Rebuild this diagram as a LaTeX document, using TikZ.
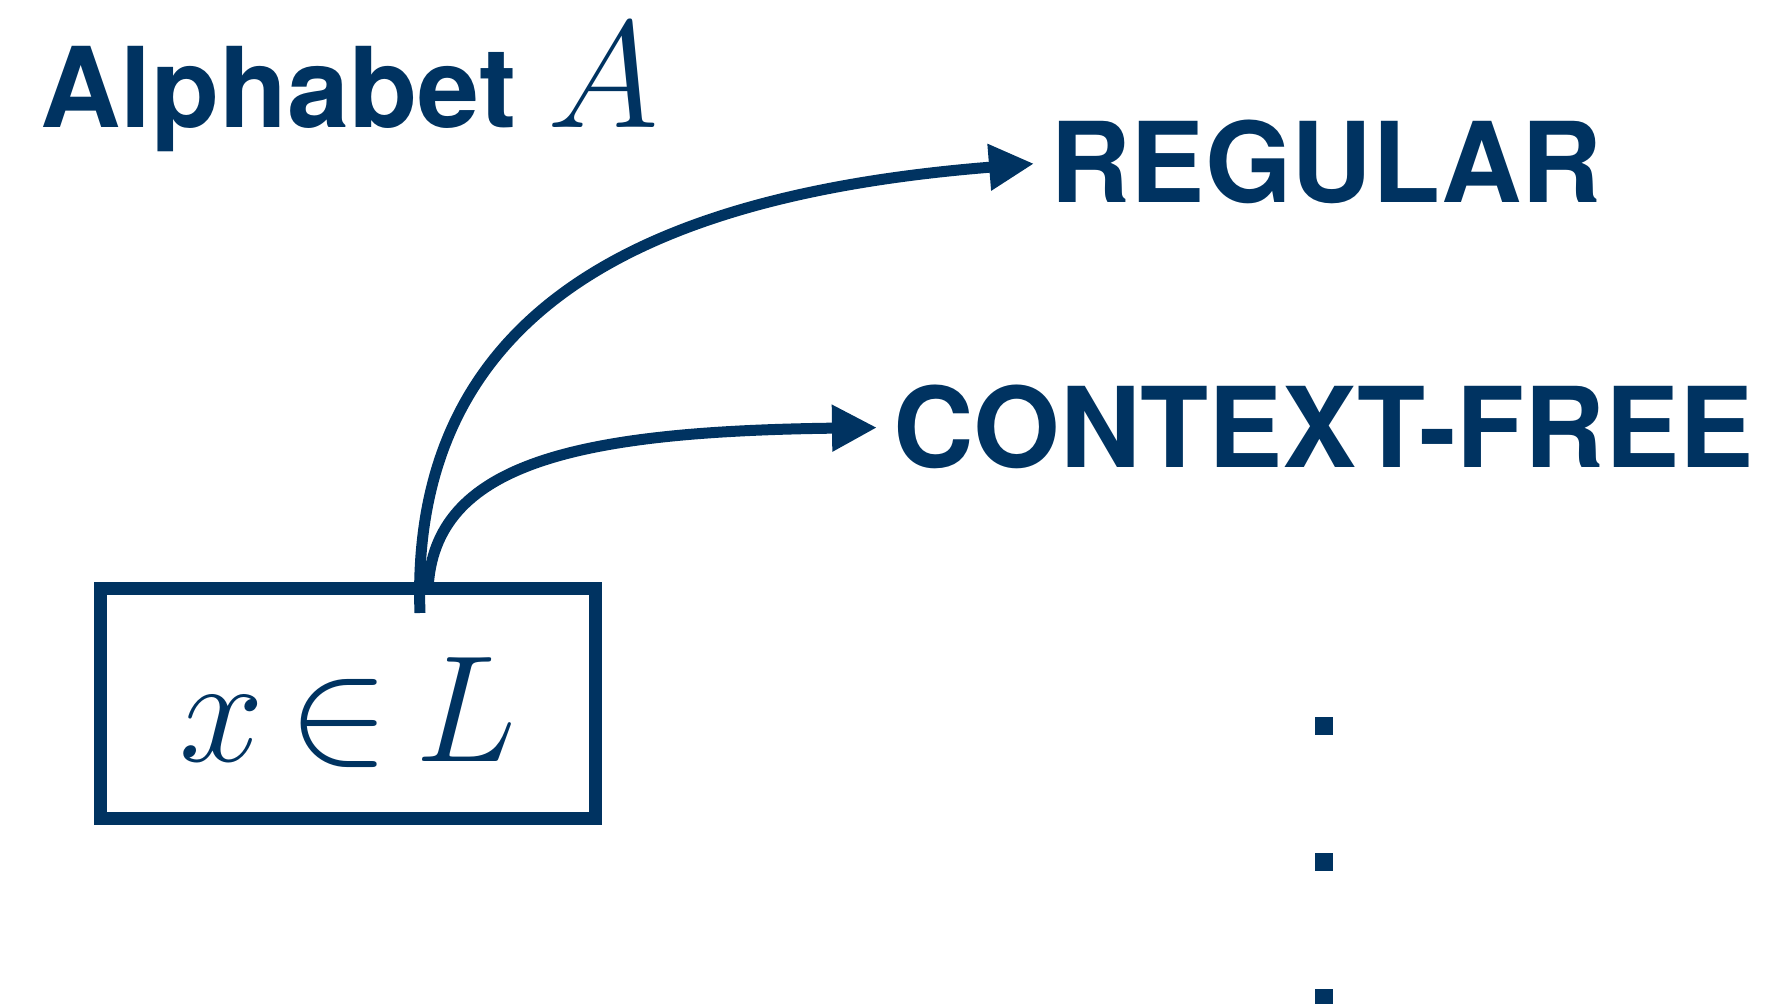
\RequirePackage{fix-cm}
\documentclass[tikz,border=0pt]{standalone}
\usepackage{fontspec}
\usepackage{tikz}
\usetikzlibrary{arrows.meta,positioning}

\newfontfamily\headfont{TeX Gyre Heros}
\definecolor{navy}{RGB}{0,51,97}

\begin{document}
\begin{tikzpicture}[x=0.5pt,y=-0.5pt,
      classname/.style={
        anchor=base west, inner sep=0pt,
        text=navy,
        font=\headfont\bfseries\fontsize{55.7}{60}\selectfont
      },
      inputbox/.style={
        rectangle,
        draw=navy, line width=6.5pt,
        minimum width=247.5pt,
        minimum height=115.25pt,
        inner sep=0pt, text=navy,
        text height=61.25pt, text depth=3pt,
        font=\fontsize{76}{80}\selectfont
      },
      arrow/.style={
        -{Triangle[length=22.5pt,width=22pt]},
        draw=navy, line width=5.5pt,
        shorten >=8pt
      },
      dotmark/.style={
        rectangle, fill=navy,
        minimum size=9pt, inner sep=0pt
      }
    ]
      \useasboundingbox (0,0) rectangle (1767,1004);

      \node[classname] (alphabet) at (40,128) {Alphabet {\fontsize{76}{80}\selectfont$A$}};
      \node[inputbox] (input) at (348,703.75) {\thickmuskip=3mu $x \in L$};
      \node[classname] (regular) at (1050,203) {REGULAR};
      \node[classname] (contextfree) at (893,468) {CONTEXT-FREE};

      % the arrows leave from the top edge of the box
      \coordinate (regfoot) at (420,613);
      \coordinate (cffoot) at (428,590);
      \draw[arrow] (regfoot) .. controls +(-12,-320) and +(-375,30) .. (regular.west);
      \draw[arrow] (cffoot) .. controls +(5,-128) and +(-313,4) .. (contextfree.west);

      % vertical dots below
      \foreach \y [count=\i] in {726,862,998}
        \node[dotmark] (dot\i) at (1324,\y) {};
    \end{tikzpicture}
\end{document}
